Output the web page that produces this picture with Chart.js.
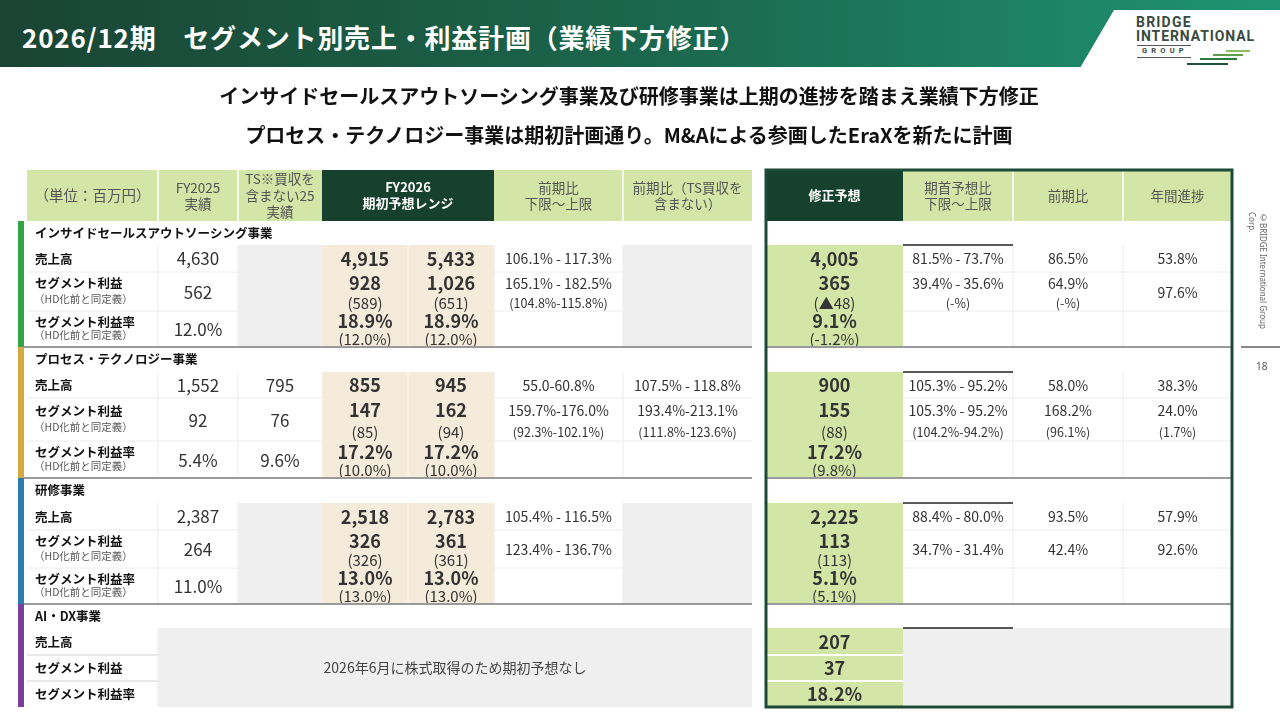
<!DOCTYPE html>
<html lang="ja">
<head>
<meta charset="UTF-8">
<title>2026/12期 セグメント別売上・利益計画</title>
<script src="https://cdn.jsdelivr.net/npm/chart.js@4"></script>
<style>
    body {
        margin: 0;
        width: 1280px;
        height: 720px;
        overflow: hidden;
        position: relative;
        background: #fff;
        font-family: "Noto Sans CJK JP", "Noto Sans", sans-serif;
    }

    #titlebar {
        position: absolute;
        left: 0; top: 0;
        width: 1280px; height: 67px;
        background: linear-gradient(90deg, #1a4433 0%, #1b6a4f 55%, #1f9472 100%);
    }

    #titlebar h1 {
        position: absolute;
        left: 22px; top: 15px;
        margin: 0;
        font-size: 26px;
        line-height: 44px;
        letter-spacing: 0.8px;
        font-weight: 700;
        color: #fff;
        white-space: nowrap;
    }

    #logoBox {
        position: absolute;
        left: 1080px; top: 10px;
        width: 200px; height: 58px;
        background: #fff;
        clip-path: polygon(34px 0, 100% 0, 100% 100%, 0 100%);
    }

    .logo { position: absolute; font-family: Roboto, "Noto Sans", sans-serif; font-weight: 700; color: #3a4a40; white-space: nowrap; }
    .bar { position: absolute; height: 2px; }

    #subtitle {
        position: absolute;
        left: 0; top: 76px;
        width: 1258px;
        text-align: center;
        font-size: 20px;
        font-weight: 700;
        line-height: 39px;
        color: #111;
    }

    #copyright {
        position: absolute;
        left: 1247px; top: 212px;
        height: 118px;
        writing-mode: vertical-rl;
        font-family: "Noto Sans", sans-serif;
        font-size: 8px;
        line-height: 11px;
        color: #666;
    }

    #pageRule { position: absolute; left: 1241px; top: 346px; width: 39px; height: 2px; background: #888; }
    #pageNo { position: absolute; left: 1256px; top: 359px; font-size: 10px; color: #555; font-family: "Noto Sans", sans-serif; }

    #tableChart { position: absolute; left: 0; top: 0; }
</style>
</head>
<body>
    <canvas id="tableChart" width="1280" height="720"></canvas>

    <div id="titlebar"><h1>2026/12期　セグメント別売上・利益計画（業績下方修正）</h1></div>
    <div id="logoBox"></div>
    <div class="logo" style="left:1136px; top:14px; font-size:14px; letter-spacing:1.2px;">BRIDGE</div>
    <div class="logo" style="left:1136px; top:28px; font-size:14px; letter-spacing:0.9px;">INTERNATIONAL</div>
    <div class="bar" style="left:1137px; top:45px; width:54px; height:1px; background:#555;"></div>
    <div class="logo" style="left:1142px; top:46px; font-size:7.5px; letter-spacing:4.2px;">GROUP</div>
    <div class="bar" style="left:1137px; top:57px; width:54px; height:1px; background:#555;"></div>
    <div class="bar" style="left:1226px; top:50px; width:24px; background:#8fbf5c;"></div>
    <div class="bar" style="left:1213px; top:54px; width:30px; background:#5f9e48;"></div>
    <div class="bar" style="left:1200px; top:58px; width:37px; background:#2f7a3e;"></div>
    <div class="bar" style="left:1187px; top:63px; width:41px; background:#1d5534;"></div>

    <div id="subtitle">
        インサイドセールスアウトソーシング事業及び研修事業は上期の進捗を踏まえ業績下方修正<br>
        プロセス・テクノロジー事業は期初計画通り。M&amp;Aによる参画したEraXを新たに計画
    </div>

    <div id="copyright">©BRIDGE International Group Corp.</div>
    <div id="pageRule"></div>
    <div id="pageNo">18</div>

    <script>
        // ---- data (百万円) ----
        const segmentNames = ['インサイドセールスアウトソーシング事業', 'プロセス・テクノロジー事業', '研修事業', 'AI・DX事業'];
        const metricNames = ['売上高', 'セグメント利益', 'セグメント利益率'];
        const metricNote = '（HD化前と同定義）';

        const fy2025Actual = [['4,630', '562', '12.0%'], ['1,552', '92', '5.4%'], ['2,387', '264', '11.0%']];
        const fy2025ExTS = [null, ['795', '76', '9.6%'], null];
        const planLow = [
            ['4,915', '928\n(589)', '18.9%\n(12.0%)'],
            ['855', '147\n(85)', '17.2%\n(10.0%)'],
            ['2,518', '326\n(326)', '13.0%\n(13.0%)']
        ];
        const planHigh = [
            ['5,433', '1,026\n(651)', '18.9%\n(12.0%)'],
            ['945', '162\n(94)', '17.2%\n(10.0%)'],
            ['2,783', '361\n(361)', '13.0%\n(13.0%)']
        ];
        const yoyRange = [
            ['106.1% - 117.3%', '165.1% - 182.5%\n(104.8%-115.8%)', ''],
            ['55.0-60.8%', '159.7%-176.0%\n(92.3%-102.1%)', ''],
            ['105.4% - 116.5%', '123.4% - 136.7%', '']
        ];
        const yoyRangeExTS = [null, ['107.5% - 118.8%', '193.4%-213.1%\n(111.8%-123.6%)', ''], null];

        const revised = [
            ['4,005', '365\n(▲48)', '9.1%\n(-1.2%)'],
            ['900', '155\n(88)', '17.2%\n(9.8%)'],
            ['2,225', '113\n(113)', '5.1%\n(5.1%)'],
            ['207', '37', '18.2%']
        ];
        const vsInitial = [
            ['81.5% - 73.7%', '39.4% - 35.6%\n(-%)', ''],
            ['105.3% - 95.2%', '105.3% - 95.2%\n(104.2%-94.2%)', ''],
            ['88.4% - 80.0%', '34.7% - 31.4%', '']
        ];
        const revisedYoY = [
            ['86.5%', '64.9%\n(-%)', ''],
            ['58.0%', '168.2%\n(96.1%)', ''],
            ['93.5%', '42.4%', '']
        ];
        const annualProgress = [
            ['53.8%', '97.6%', ''],
            ['38.3%', '24.0%\n(1.7%)', ''],
            ['57.9%', '92.6%', '']
        ];
        const aiDxNote = '2026年6月に株式取得のため期初予想なし';

        // ---- layout (scale units = page pixels) ----
        const leftCols = [27, 158, 238, 322, 408, 494, 623, 752];
        const rightCols = [766, 903, 1013, 1123, 1232];
        const headTop = 170, headBottom = 221;
        const sectionRows = [
            [221, 245, 272, 311, 347],
            [347, 372, 398, 441, 478],
            [478, 503, 530, 568, 604],
            [604, 628, 655, 681, 707]
        ];
        const segmentColors = ['#33a447', '#d4a941', '#2c7bb3', '#7a3f9e'];
        const LIGHT = '#d4e6a7', DARK = '#17412f', BEIGE = '#f4ebda', GRAY = '#efefef';
        const JP = '"Noto Sans CJK JP", "Noto Sans", sans-serif';
        const font = (size, bold) => (bold ? '700 ' : '400 ') + size + 'px ' + JP;

        const tablePlugin = {
            id: 'segmentTable',
            afterDraw(chart) {
                const ctx = chart.ctx;
                const X = v => chart.scales.x.getPixelForValue(v);
                const Y = v => chart.scales.y.getPixelForValue(v);

                function box(x0, y0, x1, y1, c) {
                    ctx.fillStyle = c;
                    ctx.fillRect(X(x0), Y(y0), X(x1) - X(x0), Y(y1) - Y(y0));
                }
                function hl(x0, x1, y, c, w) {
                    ctx.strokeStyle = c; ctx.lineWidth = w;
                    ctx.beginPath(); ctx.moveTo(X(x0), Y(y)); ctx.lineTo(X(x1), Y(y)); ctx.stroke();
                }
                function vl(x, y0, y1, c, w) {
                    ctx.strokeStyle = c; ctx.lineWidth = w;
                    ctx.beginPath(); ctx.moveTo(X(x), Y(y0)); ctx.lineTo(X(x), Y(y1)); ctx.stroke();
                }
                function txt(s, x, y, f, c, align) {
                    ctx.font = f; ctx.fillStyle = c;
                    ctx.textAlign = align || 'center'; ctx.textBaseline = 'middle';
                    ctx.fillText(s, X(x), Y(y));
                }
                function multi(lines, cx, cy, lh, f, c) {
                    const y0 = cy - (lines.length - 1) * lh / 2;
                    lines.forEach((l, i) => txt(l, cx, y0 + i * lh, f, c));
                }
                function cell(s, x0, x1, y0, y1, mainF, subF) {
                    if (!s) return;
                    const p = s.split('\n'), cx = (x0 + x1) / 2, h = y1 - y0;
                    if (p.length === 1) txt(p[0], cx, y0 + h * 0.52, mainF, '#333');
                    else {
                        txt(p[0], cx, y0 + h * 0.29, mainF, '#333');
                        txt(p[1], cx, y0 + h * 0.79, subF, '#333');
                    }
                }

                ctx.save();

                // header
                const L = leftCols, R = rightCols;
                box(L[0], headTop, L[3], headBottom, LIGHT);
                box(L[3], headTop, L[5], headBottom, DARK);
                box(L[5], headTop, L[7], headBottom, LIGHT);
                [L[1], L[2], L[6]].forEach(x => vl(x, headTop, headBottom, '#fff', 1.5));
                box(R[0], headTop, R[1], headBottom, DARK);
                box(R[1], headTop, R[4], headBottom, LIGHT);
                [R[2], R[3]].forEach(x => vl(x, headTop, headBottom, '#fff', 1.5));

                const hc = (headTop + headBottom) / 2, hf = font(13.5, false), hb = font(13, true);
                txt('（単位：百万円）', (L[0] + L[1]) / 2, hc, font(14.5, false), '#555');
                multi(['FY2025', '実績'], (L[1] + L[2]) / 2, hc, 16, hf, '#555');
                multi(['TS※買収を', '含まない25', '実績'], (L[2] + L[3]) / 2, hc, 16.5, hf, '#555');
                multi(['FY2026', '期初予想レンジ'], (L[3] + L[5]) / 2, hc, 16, hb, '#fff');
                multi(['前期比', '下限～上限'], (L[5] + L[6]) / 2, hc, 16, hf, '#555');
                multi(['前期比（TS買収を', '含まない）'], (L[6] + L[7]) / 2, hc, 16, hf, '#555');
                txt('修正予想', (R[0] + R[1]) / 2, hc, hb, '#fff');
                multi(['期首予想比', '下限～上限'], (R[1] + R[2]) / 2, hc, 16, hf, '#555');
                txt('前期比', (R[2] + R[3]) / 2, hc, hf, '#555');
                txt('年間進捗', (R[3] + R[4]) / 2, hc, hf, '#555');

                // sections
                sectionRows.forEach((rows, s) => {
                    const top = rows[0], bottom = rows[4];
                    box(18, top, 24, bottom, segmentColors[s]);
                    txt(segmentNames[s], 35, (rows[0] + rows[1]) / 2, font(12.5, true), '#111', 'left');

                    // light grid
                    for (let m = 1; m < 3; m++) {
                        hl(L[0], L[7], rows[m + 1], '#ececec', 1);
                        hl(R[0], R[4], rows[m + 1], '#ececec', 1);
                    }
                    [L[1], L[2], L[5], L[6]].forEach(x => vl(x, rows[1], bottom, '#ececec', 1));
                    [R[2], R[3]].forEach(x => vl(x, rows[1], bottom, '#ececec', 1));

                    if (s < 3) {
                        if (!fy2025ExTS[s]) box(L[2], rows[1], L[3], bottom, GRAY);
                        box(L[3], rows[1], L[5], bottom, BEIGE);
                        vl(L[4], rows[1], bottom, '#fbf7ef', 1);
                        if (!yoyRangeExTS[s]) box(L[6], rows[1], L[7], bottom, GRAY);
                    } else {
                        box(L[1], rows[1], L[7], bottom, GRAY);
                        box(R[1], rows[1], R[4] - 1, bottom - 2, GRAY);
                    }
                    box(R[0], rows[1], R[1], bottom, LIGHT);
                    if (s === 3) {
                        hl(R[0], R[1], rows[2], '#fff', 2);
                        hl(R[0], R[1], rows[3], '#fff', 2);
                        hl(L[0], L[1], rows[2], '#e4e4e4', 1.5);
                        hl(L[0], L[1], rows[3], '#e4e4e4', 1.5);
                    }
                    hl(R[1], R[2], rows[1], '#222', 1.5);

                    for (let m = 0; m < 3; m++) {
                        const y0 = rows[m + 1], y1 = rows[m + 2], h = y1 - y0;
                        if (s < 3 && m > 0) {
                            txt(metricNames[m], 35, y0 + h * 0.3, font(12.5, true), '#111', 'left');
                            txt(metricNote, 34, y0 + h * 0.68, font(10.5, false), '#555', 'left');
                        } else {
                            txt(metricNames[m], 35, y0 + h * 0.52, font(12.5, true), '#111', 'left');
                        }

                        if (s < 3) {
                            cell(fy2025Actual[s][m], L[1], L[2], y0, y1, font(17, false), font(15, false));
                            if (fy2025ExTS[s]) cell(fy2025ExTS[s][m], L[2], L[3], y0, y1, font(17, false), font(15, false));
                            cell(planLow[s][m], L[3], L[4], y0, y1, font(18, true), font(15, false));
                            cell(planHigh[s][m], L[4], L[5], y0, y1, font(18, true), font(15, false));
                            cell(yoyRange[s][m], L[5], L[6], y0, y1, font(14, false), font(12.5, false));
                            if (yoyRangeExTS[s]) cell(yoyRangeExTS[s][m], L[6], L[7], y0, y1, font(14, false), font(12.5, false));
                            cell(vsInitial[s][m], R[1], R[2], y0, y1, font(14, false), font(12.5, false));
                            cell(revisedYoY[s][m], R[2], R[3], y0, y1, font(14, false), font(12.5, false));
                            cell(annualProgress[s][m], R[3], R[4], y0, y1, font(14, false), font(12.5, false));
                        }
                        cell(revised[s][m], R[0], R[1], y0, y1, font(18, true), font(15, false));
                    }

                    if (s === 3) txt(aiDxNote, (L[1] + L[7]) / 2, (rows[1] + bottom) / 2, font(14, false), '#444');
                    if (s < 3) {
                        hl(24, L[7], bottom, '#9a9a9a', 2);
                        hl(R[0], R[4], bottom, '#9a9a9a', 2);
                    }
                });

                // frame of the revised-forecast table
                ctx.strokeStyle = '#1c4a37';
                ctx.lineWidth = 3;
                ctx.strokeRect(X(R[0]), Y(headTop), X(R[4]) - X(R[0]), Y(707) - Y(headTop));

                ctx.restore();
            }
        };

        new Chart(document.getElementById('tableChart'), {
            type: 'scatter',
            data: { datasets: [] },
            options: {
                responsive: false,
                animation: false,
                layout: { padding: 0 },
                plugins: { legend: { display: false }, tooltip: { enabled: false } },
                scales: {
                    x: { type: 'linear', min: 0, max: 1280, display: false },
                    y: { type: 'linear', min: 0, max: 720, reverse: true, display: false }
                }
            },
            plugins: [tablePlugin]
        });
    </script>
</body>
</html>
